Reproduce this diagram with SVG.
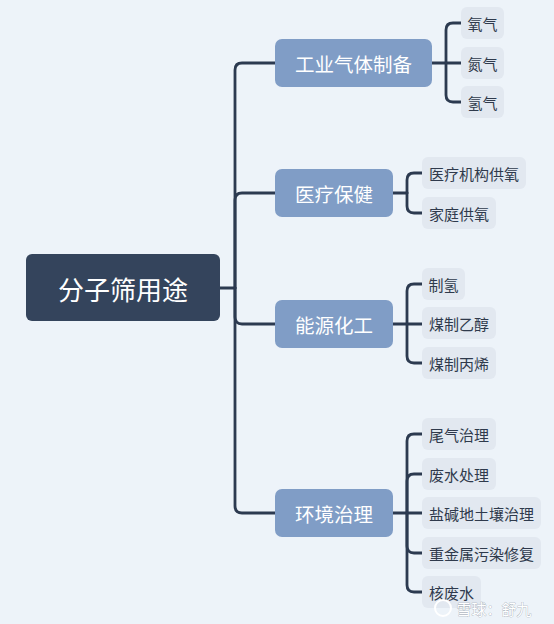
<svg xmlns="http://www.w3.org/2000/svg" width="554" height="624" viewBox="0 0 554 624">
<style>
text{font-family:"Noto Sans CJK SC","Noto Sans",sans-serif;dominant-baseline:central;text-anchor:middle}
.root rect{fill:#34445c}
.root text{fill:#ffffff;font-size:26px}
.branch rect{fill:#809dc6}
.branch text{fill:#ffffff;font-size:19.5px}
.leaf rect{fill:#e2e8f0}
.leaf text{fill:#2f3a4c;font-size:15px}
.conn path{fill:none;stroke:#2c3a50;stroke-width:2.8;stroke-linecap:round}
.wm{fill:#ffffff;font-size:15px;stroke:#9aa3ad;stroke-width:0.6;paint-order:stroke}
</style>
<rect width="554" height="624" fill="#edf3f9"/>
<g class="conn">
<path d="M220,288 H235"/>
<path d="M235,288 V70 Q235,63 242,63 H275"/>
<path d="M235,288 V200 Q235,193 242,193 H275"/>
<path d="M235,288 V317 Q235,324 242,324 H275"/>
<path d="M235,288 V506 Q235,513 242,513 H275"/>
<path d="M432,63 H461"/>
<path d="M446,63 V30 Q446,23 453,23 H461"/>
<path d="M446,63 V95 Q446,102 453,102 H461"/>
<path d="M393,193 H407"/>
<path d="M407,193 V180 Q407,173 414,173 H422"/>
<path d="M407,193 V206 Q407,213 414,213 H422"/>
<path d="M393,324 H422"/>
<path d="M407,324 V291 Q407,284 414,284 H422"/>
<path d="M407,324 V356 Q407,363 414,363 H422"/>
<path d="M393,513 H422"/>
<path d="M407,513 V441 Q407,434 414,434 H422"/>
<path d="M407,513 V481 Q407,474 414,474 H422"/>
<path d="M407,513 V546 Q407,553 414,553 H422"/>
<path d="M407,513 V585 Q407,592 414,592 H422"/>
</g>
<g id="root" class="root"><rect x="26" y="254" width="194" height="67" rx="6"/><text x="123" y="288">分子筛用途</text></g>
<g id="b1" class="branch"><rect x="275" y="39" width="157" height="48" rx="7"/><text x="353.5" y="63">工业气体制备</text></g>
<g id="b2" class="branch"><rect x="275" y="169" width="118" height="48" rx="7"/><text x="334" y="193">医疗保健</text></g>
<g id="b3" class="branch"><rect x="275" y="300" width="118" height="48" rx="7"/><text x="334" y="324">能源化工</text></g>
<g id="b4" class="branch"><rect x="275" y="489" width="118" height="48" rx="7"/><text x="334" y="513">环境治理</text></g>
<g id="l11" class="leaf"><rect x="461" y="7" width="43" height="32" rx="6"/><text x="482.5" y="23">氧气</text></g>
<g id="l12" class="leaf"><rect x="461" y="47" width="43" height="32" rx="6"/><text x="482.5" y="63">氮气</text></g>
<g id="l13" class="leaf"><rect x="461" y="86" width="43" height="32" rx="6"/><text x="482.5" y="102">氢气</text></g>
<g id="l21" class="leaf"><rect x="422" y="157" width="104" height="32" rx="6"/><text x="474" y="173">医疗机构供氧</text></g>
<g id="l22" class="leaf"><rect x="422" y="197" width="74" height="32" rx="6"/><text x="459" y="213">家庭供氧</text></g>
<g id="l31" class="leaf"><rect x="422" y="268" width="43" height="32" rx="6"/><text x="443.5" y="284">制氢</text></g>
<g id="l32" class="leaf"><rect x="422" y="307" width="74" height="32" rx="6"/><text x="459" y="323">煤制乙醇</text></g>
<g id="l33" class="leaf"><rect x="422" y="347" width="74" height="32" rx="6"/><text x="459" y="363">煤制丙烯</text></g>
<g id="l41" class="leaf"><rect x="422" y="418" width="74" height="32" rx="6"/><text x="459" y="434">尾气治理</text></g>
<g id="l42" class="leaf"><rect x="422" y="458" width="74" height="32" rx="6"/><text x="459" y="474">废水处理</text></g>
<g id="l43" class="leaf"><rect x="422" y="497" width="119" height="32" rx="6"/><text x="481.5" y="513">盐碱地土壤治理</text></g>
<g id="l44" class="leaf"><rect x="422" y="537" width="119" height="32" rx="6"/><text x="481.5" y="553">重金属污染修复</text></g>
<g id="l45" class="leaf"><rect x="422" y="576" width="59" height="32" rx="6"/><text x="451.5" y="592">核废水</text></g>
<g id="watermark">
<circle cx="443" cy="608" r="8" fill="none" stroke="#ffffff" stroke-width="2"/>
<text class="wm" x="494" y="608">雪球：舒九</text>
</g>
</svg>
